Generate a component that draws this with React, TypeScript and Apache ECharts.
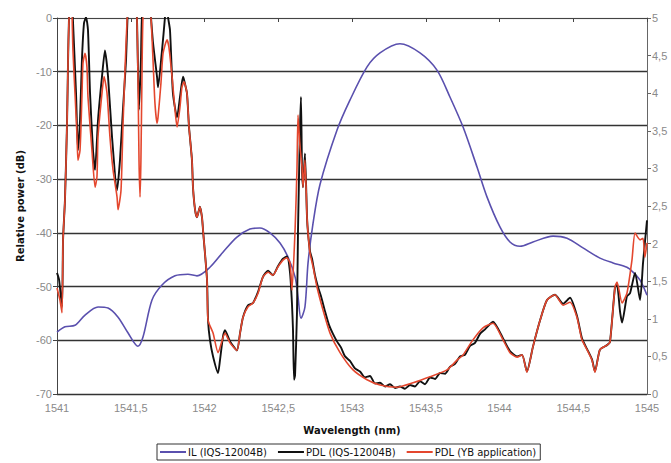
import React, { useEffect, useRef } from 'react';
import * as echarts from 'echarts';

// Wavelength (nm) vs IL (dB, left axis)
const ilCurve: [number, number][] = [
  [1541.000, -58.5], [1541.054, -57.5], [1541.122, -57.2], [1541.190, -55.3], [1541.278, -53.8],
  [1541.346, -54.0], [1541.414, -55.7], [1541.481, -58.6], [1541.549, -61.1], [1541.583, -59.4],
  [1541.644, -52.5], [1541.712, -49.7], [1541.800, -48.0], [1541.888, -47.7], [1541.949, -48.0],
  [1542.037, -46.4], [1542.125, -43.6], [1542.220, -40.8], [1542.308, -39.3], [1542.376, -39.1],
  [1542.444, -40.0], [1542.512, -41.9], [1542.566, -44.5], [1542.614, -48.2], [1542.634, -51.9],
  [1542.654, -55.9], [1542.681, -53.8], [1542.702, -45.6], [1542.736, -38.2], [1542.783, -31.0],
  [1542.898, -20.9], [1542.986, -15.3], [1543.102, -9.1], [1543.190, -6.5], [1543.325, -4.8],
  [1543.461, -6.5], [1543.576, -9.7], [1543.664, -14.7], [1543.753, -20.3], [1543.847, -27.7],
  [1543.915, -33.3], [1544.003, -38.9], [1544.071, -41.7], [1544.139, -42.5], [1544.227, -41.7],
  [1544.363, -40.6], [1544.458, -41.0], [1544.566, -42.8], [1544.681, -44.7], [1544.770, -45.6],
  [1544.864, -46.4], [1544.905, -47.3], [1544.953, -48.8], [1545.000, -51.6],
];

// Wavelength (nm) vs PDL (dB, right axis) — IQS-12004B
const pdlIqsCurve: [number, number][] = [
  [1541.000, 1.61], [1541.014, 1.52], [1541.034, 1.16], [1541.041, 2.05], [1541.054, 2.58],
  [1541.068, 3.60], [1541.075, 4.44], [1541.081, 4.97], [1541.095, 5.5], [1541.108, 4.97],
  [1541.129, 4.00], [1541.142, 3.24], [1541.156, 3.64], [1541.169, 4.44], [1541.183, 4.93],
  [1541.197, 5.01], [1541.210, 4.84], [1541.224, 4.00], [1541.244, 3.24], [1541.258, 2.98],
  [1541.278, 3.64], [1541.305, 4.22], [1541.325, 4.57], [1541.346, 4.22], [1541.373, 3.42],
  [1541.407, 2.71], [1541.427, 3.11], [1541.447, 3.78], [1541.468, 4.44], [1541.478, 5.0],
  [1541.495, 5.6], [1541.529, 5.6], [1541.542, 5.01], [1541.556, 3.78], [1541.569, 4.44],
  [1541.576, 5.01], [1541.610, 5.6], [1541.637, 5.01], [1541.651, 4.67], [1541.678, 4.22],
  [1541.685, 4.08], [1541.712, 4.57], [1541.732, 5.01], [1541.742, 5.3], [1541.753, 5.01],
  [1541.766, 4.84], [1541.786, 4.00], [1541.814, 3.68], [1541.834, 3.95], [1541.854, 4.22],
  [1541.861, 4.18], [1541.881, 4.00], [1541.895, 3.55], [1541.915, 3.11], [1541.922, 2.75],
  [1541.936, 2.45], [1541.949, 2.35], [1541.969, 2.49], [1541.983, 2.35], [1541.990, 2.18],
  [1542.017, 1.52], [1542.024, 0.98], [1542.037, 0.72],
  [1542.058, 0.50], [1542.092, 0.28], [1542.105, 0.45], [1542.125, 0.76], [1542.139, 0.85],
  [1542.173, 0.70], [1542.220, 0.58], [1542.241, 0.81], [1542.261, 1.02], [1542.295, 1.18],
  [1542.329, 1.21], [1542.363, 1.36], [1542.397, 1.56], [1542.431, 1.64], [1542.464, 1.58],
  [1542.498, 1.70], [1542.532, 1.80], [1542.559, 1.83], [1542.580, 1.61], [1542.593, 1.20],
  [1542.600, 0.85], [1542.607, 0.19], [1542.614, 0.25], [1542.627, 1.08], [1542.634, 2.18],
  [1542.647, 3.5], [1542.654, 3.95], [1542.661, 3.0], [1542.668, 2.75], [1542.681, 3.2],
  [1542.695, 2.35], [1542.702, 2.14], [1542.715, 1.90], [1542.729, 1.80], [1542.749, 1.58],
  [1542.770, 1.42], [1542.790, 1.30], [1542.817, 1.10], [1542.844, 0.92], [1542.871, 0.80],
  [1542.898, 0.70], [1542.925, 0.62], [1542.953, 0.50], [1542.986, 0.44], [1543.020, 0.34],
  [1543.054, 0.30], [1543.088, 0.22], [1543.122, 0.24], [1543.156, 0.14], [1543.190, 0.15],
  [1543.224, 0.10], [1543.258, 0.13], [1543.292, 0.08], [1543.325, 0.10], [1543.359, 0.07],
  [1543.393, 0.12], [1543.427, 0.10], [1543.461, 0.17], [1543.495, 0.13], [1543.529, 0.22],
  [1543.563, 0.20], [1543.597, 0.28], [1543.631, 0.27], [1543.664, 0.36], [1543.698, 0.40],
  [1543.732, 0.50], [1543.766, 0.52], [1543.800, 0.64], [1543.834, 0.68], [1543.868, 0.80],
  [1543.902, 0.86], [1543.936, 0.93], [1543.956, 0.96], [1544.024, 0.74], [1544.071, 0.57],
  [1544.119, 0.50], [1544.153, 0.52], [1544.186, 0.30], [1544.227, 0.63], [1544.275, 0.98],
  [1544.322, 1.25], [1544.376, 1.32], [1544.431, 1.20], [1544.478, 1.28], [1544.525, 1.04],
  [1544.559, 0.74], [1544.593, 0.60], [1544.627, 0.46], [1544.647, 0.30], [1544.681, 0.59],
  [1544.729, 0.65], [1544.749, 0.69], [1544.783, 1.42], [1544.797, 1.45], [1544.817, 1.10],
  [1544.831, 0.95], [1544.864, 1.30], [1544.885, 1.34], [1544.919, 1.61], [1544.953, 1.25],
  [1544.973, 1.74], [1545.000, 2.31],
];

// Wavelength (nm) vs PDL (dB, right axis) — YB application
const pdlYbCurve: [number, number][] = [
  [1541.000, 1.41], [1541.020, 1.25], [1541.034, 1.08], [1541.041, 2.05], [1541.054, 2.58],
  [1541.068, 3.60], [1541.075, 4.44], [1541.081, 4.97], [1541.095, 5.5], [1541.108, 4.57],
  [1541.122, 4.00], [1541.136, 3.42], [1541.142, 3.11], [1541.156, 3.24], [1541.169, 3.95],
  [1541.176, 4.40], [1541.190, 4.53], [1541.203, 4.35], [1541.210, 3.95], [1541.237, 3.24],
  [1541.258, 2.75], [1541.271, 2.89], [1541.278, 3.42], [1541.305, 4.00], [1541.319, 4.22],
  [1541.339, 4.00], [1541.359, 3.42], [1541.380, 2.98], [1541.407, 2.62], [1541.414, 2.45],
  [1541.434, 2.71], [1541.447, 3.55], [1541.461, 4.31], [1541.475, 4.97], [1541.495, 5.6],
  [1541.529, 5.6], [1541.542, 5.01], [1541.549, 4.22], [1541.556, 3.11], [1541.563, 2.62],
  [1541.569, 3.11], [1541.576, 4.22], [1541.583, 5.01], [1541.610, 5.6], [1541.637, 5.01],
  [1541.651, 4.44], [1541.664, 3.87], [1541.678, 3.60], [1541.685, 3.68], [1541.705, 4.14],
  [1541.719, 4.53], [1541.746, 4.71], [1541.759, 4.61], [1541.780, 4.22], [1541.800, 3.78],
  [1541.814, 3.55], [1541.834, 3.82], [1541.847, 4.08], [1541.861, 4.15], [1541.881, 4.00],
  [1541.895, 3.55], [1541.915, 3.11], [1541.922, 2.75], [1541.936, 2.45], [1541.949, 2.35],
  [1541.969, 2.49], [1541.983, 2.35], [1541.990, 2.18], [1542.017, 1.52], [1542.024, 0.98],
  [1542.058, 0.81], [1542.092, 0.55], [1542.139, 0.81], [1542.173, 0.68], [1542.220, 0.58],
  [1542.241, 0.81], [1542.261, 1.02], [1542.295, 1.16], [1542.329, 1.21], [1542.363, 1.34],
  [1542.397, 1.56], [1542.431, 1.62], [1542.464, 1.58], [1542.498, 1.69], [1542.532, 1.78],
  [1542.559, 1.81], [1542.580, 1.74], [1542.593, 1.38], [1542.614, 2.18], [1542.627, 3.0],
  [1542.634, 3.71], [1542.647, 3.3], [1542.661, 3.02], [1542.668, 2.75], [1542.681, 3.11],
  [1542.695, 2.35], [1542.702, 2.14], [1542.715, 1.88], [1542.736, 1.69], [1542.763, 1.42],
  [1542.803, 1.12], [1542.851, 0.81], [1542.919, 0.55], [1543.007, 0.32], [1543.102, 0.19],
  [1543.190, 0.12], [1543.305, 0.09], [1543.414, 0.15], [1543.529, 0.23], [1543.644, 0.32],
  [1543.712, 0.45], [1543.753, 0.52], [1543.820, 0.72], [1543.888, 0.88], [1543.956, 0.94],
  [1544.024, 0.72], [1544.071, 0.55], [1544.119, 0.49], [1544.153, 0.52], [1544.186, 0.29],
  [1544.227, 0.63], [1544.275, 0.98], [1544.322, 1.25], [1544.376, 1.32], [1544.431, 1.18],
  [1544.478, 1.22], [1544.525, 1.02], [1544.559, 0.72], [1544.593, 0.59], [1544.627, 0.45],
  [1544.647, 0.29], [1544.681, 0.59], [1544.729, 0.65], [1544.749, 0.69], [1544.783, 1.42],
  [1544.797, 1.49], [1544.831, 1.21], [1544.864, 1.34], [1544.898, 1.78], [1544.919, 2.14],
  [1544.953, 2.05], [1544.973, 2.07], [1544.986, 1.82], [1545.000, 2.01],
];

const seriesNames = ['IL (IQS-12004B)', 'PDL (IQS-12004B)', 'PDL (YB application)'];
const seriesColors = ['#5a50ae', '#111111', '#e4472e'];

const comma = (v: number) => String(v).replace('.', ',');

export default function App() {
  const ref = useRef<HTMLDivElement>(null);
  useEffect(() => {
    document.body.style.margin = '0';
    const chart = echarts.init(ref.current!, undefined, { renderer: 'svg' });
    const tickLabel = { color: '#8a8a8a', fontSize: 11, fontFamily: 'Liberation Sans, Arial, sans-serif' };
    const titleFont = { color: '#111', fontSize: 10, fontWeight: 'bold' as const, fontFamily: 'DejaVu Sans, Verdana, sans-serif' };
    chart.setOption({
      animation: false,
      backgroundColor: '#fff',
      grid: { left: 57, right: 24, top: 18, bottom: 69, containLabel: false },
      legend: {
        data: seriesNames,
        left: 157,
        top: 444,
        orient: 'horizontal',
        itemWidth: 26,
        itemHeight: 2,
        itemGap: 11,
        icon: 'rect',
        borderColor: '#333',
        borderWidth: 1,
        borderRadius: 0,
        padding: [3, 4, 3, 3],
        textStyle: { color: '#111', fontSize: 10, fontFamily: 'DejaVu Sans, sans-serif', padding: [0, 0, 0, -3] },
      },
      xAxis: {
        type: 'value',
        min: 1541,
        max: 1545,
        interval: 0.5,
        name: 'Wavelength (nm)',
        nameLocation: 'middle',
        nameGap: 31,
        nameTextStyle: titleFont,
        axisLine: { lineStyle: { color: '#444', width: 1 } },
        axisTick: { show: true, length: 4, lineStyle: { color: '#444' } },
        axisLabel: { ...tickLabel, margin: 8, formatter: comma },
        splitLine: { show: false },
      },
      yAxis: [
        {
          type: 'value',
          min: -70,
          max: 0,
          interval: 10,
          position: 'left',
          name: 'Relative power (dB)',
          nameLocation: 'middle',
          nameGap: 32,
          nameTextStyle: titleFont,
          axisLine: { show: true, lineStyle: { color: '#444', width: 1 } },
          axisTick: { show: true, length: 4, lineStyle: { color: '#444' } },
          axisLabel: { ...tickLabel, margin: 5 },
          splitLine: {
            show: true,
            lineStyle: { color: ['#333', '#333', '#333', '#333', '#333', '#333', '#333', '#cfcfcf'], width: 1.3 },
          },
        },
        {
          type: 'value',
          min: 0,
          max: 5,
          interval: 0.5,
          position: 'right',
          axisLine: { show: true, lineStyle: { color: '#666', width: 1 } },
          axisTick: { show: true, length: 4, lineStyle: { color: '#666' } },
          axisLabel: { ...tickLabel, margin: 5, formatter: comma },
          splitLine: { show: false },
        },
      ],
      series: [
        {
          name: seriesNames[0],
          type: 'line',
          yAxisIndex: 0,
          data: ilCurve,
          showSymbol: false,
          smooth: 0.3,
          clip: true,
          color: seriesColors[0],
          lineStyle: { width: 1.6, color: seriesColors[0] },
        },
        {
          name: seriesNames[1],
          type: 'line',
          yAxisIndex: 1,
          data: pdlIqsCurve,
          showSymbol: false,
          smooth: 0.2,
          clip: true,
          color: seriesColors[1],
          lineStyle: { width: 1.9, color: seriesColors[1] },
        },
        {
          name: seriesNames[2],
          type: 'line',
          yAxisIndex: 1,
          data: pdlYbCurve,
          showSymbol: false,
          smooth: 0.2,
          clip: true,
          color: seriesColors[2],
          lineStyle: { width: 1.6, color: seriesColors[2] },
        },
      ],
    });
    return () => chart.dispose();
  }, []);
  return <div ref={ref} style={{ width: 671, height: 463 }} />;
}
